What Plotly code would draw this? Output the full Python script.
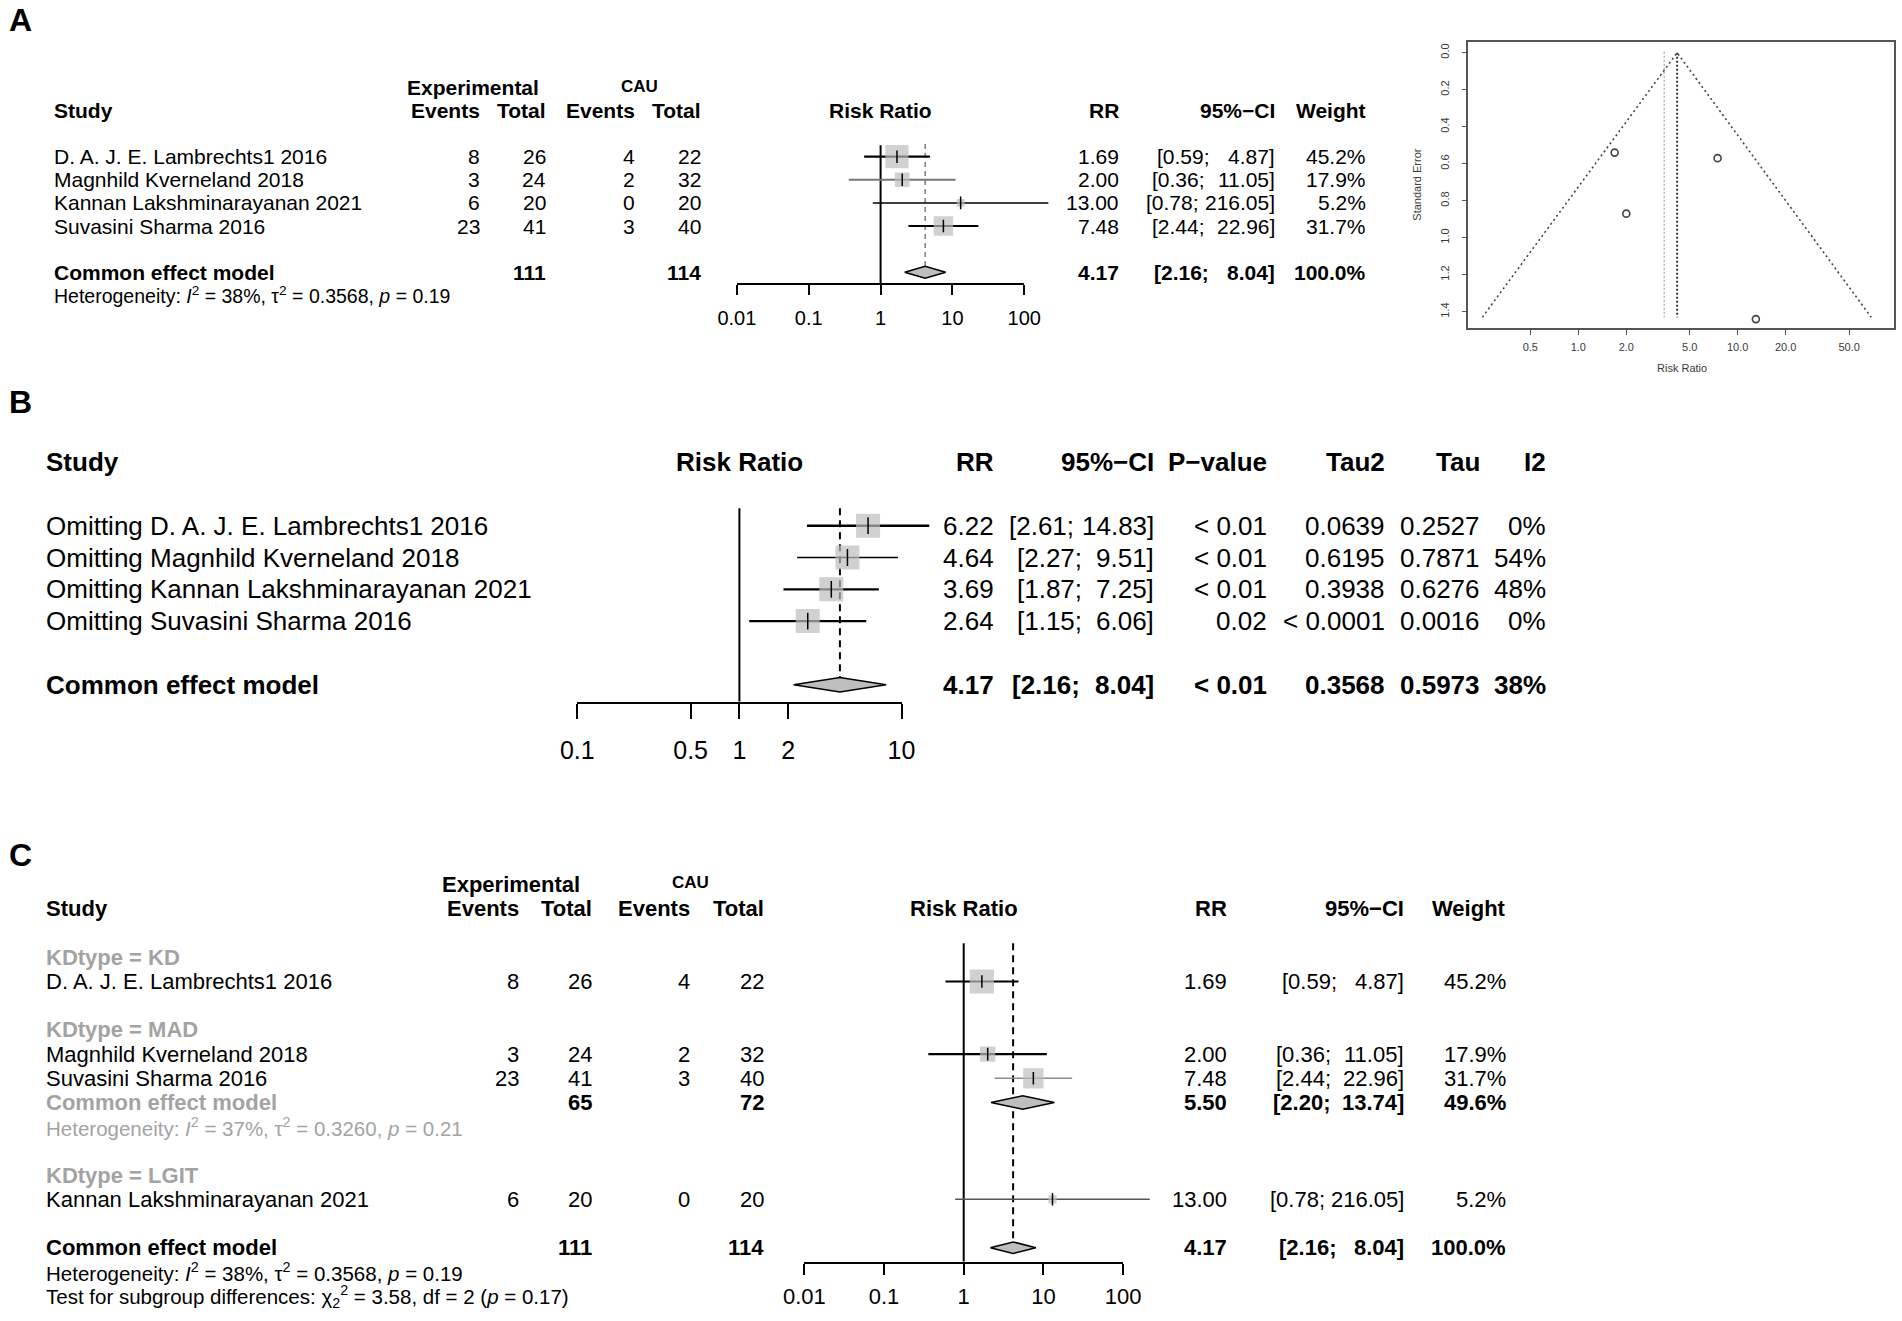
import numpy as np
import plotly.graph_objects as go

W, H = 1902, 1321
FONT = "Liberation Sans, Arial, Helvetica, sans-serif"

# ---------------- data ----------------
studies = ["D. A. J. E. Lambrechts1 2016", "Magnhild Kverneland 2018",
           "Kannan Lakshminarayanan 2021", "Suvasini Sharma 2016"]
exp_events = [8, 3, 6, 23]
exp_total = [26, 24, 20, 41]
cau_events = [4, 2, 0, 3]
cau_total = [22, 32, 20, 40]
rr = [1.69, 2.00, 13.00, 7.48]
ci_low = [0.59, 0.36, 0.78, 2.44]
ci_high = [4.87, 11.05, 216.05, 22.96]
weight = [45.2, 17.9, 5.2, 31.7]

pooled_rr, pooled_low, pooled_high = 4.17, 2.16, 8.04
pooled_exp_total, pooled_cau_total = 111, 114
het_overall = "Heterogeneity: <i>I</i><sup>2</sup> = 38%, τ<sup>2</sup> = 0.3568, <i>p</i> = 0.19"

# funnel plot (standard error of each study)
funnel_se = [0.54, 0.87, 1.44, 0.57]
funnel_random_rr = 3.46
funnel_edge_rr = [0.25, 4.17, 68.8]
funnel_edge_se = [1.43, 0.0, 1.43]
funnel_x_ticks = [0.5, 1, 2, 5, 10, 20, 50]
funnel_x_ticktext = ["0.5", "1.0", "2.0", "5.0", "10.0", "20.0", "50.0"]
funnel_y_ticks = [0.0, 0.2, 0.4, 0.6, 0.8, 1.0, 1.2, 1.4]
funnel_y_ticktext = ["0.0", "0.2", "0.4", "0.6", "0.8", "1.0", "1.2", "1.4"]

# leave-one-out (panel B)
omit_labels = ["Omitting " + s for s in studies]
omit_rr = [6.22, 4.64, 3.69, 2.64]
omit_low = [2.61, 2.27, 1.87, 1.15]
omit_high = [14.83, 9.51, 7.25, 6.06]
omit_p = ["< 0.01", "< 0.01", "< 0.01", "0.02"]
omit_tau2 = ["0.0639", "0.6195", "0.3938", "< 0.0001"]
omit_tau = ["0.2527", "0.7871", "0.6276", "0.0016"]
omit_i2 = ["0%", "54%", "48%", "0%"]
omit_summary = ["< 0.01", "0.3568", "0.5973", "38%"]

# subgroup analysis (panel C)
c_order = [0, 1, 3, 2]
c_groups = ["KD", "MAD", "LGIT"]
mad_rr, mad_low, mad_high, mad_weight = 5.50, 2.20, 13.74, 49.6
mad_exp_total, mad_cau_total = 65, 72
het_mad = "Heterogeneity: <i>I</i><sup>2</sup> = 37%, τ<sup>2</sup> = 0.3260, <i>p</i> = 0.21"
subgroup_test = "Test for subgroup differences: χ<sub>2</sub><sup>2</sup> = 3.58, df = 2 (<i>p</i> = 0.17)"

A_ticks = [0.01, 0.1, 1, 10, 100]
A_ticktext = ["0.01", "0.1", "1", "10", "100"]
B_ticks = [0.1, 0.5, 1, 2, 10]
B_ticktext = ["0.1", "0.5", "1", "2", "10"]
C_ticks = [0.01, 0.1, 1, 10, 100]
C_ticktext = ["0.01", "0.1", "1", "10", "100"]

# ---------------- helpers ----------------
SQ = "#BEBEBE"
GRAY_TXT = "#A3A3A3"
annotations = []


def ann(text, x, y, xanchor="left", size=21, color="black", bold=False, angle=0):
    if bold:
        text = "<b>" + text + "</b>"
    annotations.append(dict(text=text, x=x / W, y=1 - y / H, xref="paper", yref="paper",
                            xanchor=xanchor, yanchor="middle", showarrow=False,
                            textangle=angle, borderpad=0, borderwidth=0,
                            font=dict(family=FONT, size=size, color=color)))


def ci_ann(lo, hi, wh, xr, y, fs, bold=False, color="black"):
    """CI column as R prints it: '[lo; hi]' with the upper value space-padded."""
    hs = f"{hi:.2f}"
    npad = wh - len(hs)
    ann(hs + "]", xr, y, "right", fs, color, bold)
    w_upper = sum(0.556 if ch.isdigit() else 0.278 for ch in hs)
    w_br = 0.333 if bold else 0.278
    shift = (w_upper + w_br + 0.278 * (1 + npad)) * fs
    ann(f"[{lo:.2f};", xr - shift, y, "right", fs, color, bold)


def rowpx(P, r):
    return P["y0"] + r * P["sp"]


fig = go.Figure()
layout_axes = {}


def setup_forest(P, xd, xa, ya, ticks, ticktext, tickfs, ticklen, standoff):
    c, d = P["c"], P["d"]
    r_bot = (P["axis"] - P["y0"]) / P["sp"]
    r_top = (P["top"] - P["y0"]) / P["sp"]
    P["r_axis"] = r_bot
    yname = "yaxis" + ya[1:]
    layout_axes[yname] = dict(domain=[1 - P["axis"] / H, 1 - P["top"] / H],
                              range=[r_bot, r_top], visible=False, anchor=xd,
                              showgrid=False, zeroline=False)
    layout_axes["xaxis" + xd[1:]] = dict(type="log", domain=[0, 1],
                                         range=[(0 - c) / d, (W - c) / d],
                                         visible=False, anchor=ya,
                                         showgrid=False, zeroline=False)
    lo, hi = np.log10(ticks[0]), np.log10(ticks[-1])
    layout_axes["xaxis" + xa[1:]] = dict(
        type="log", domain=[(c + lo * d) / W, (c + hi * d) / W], range=[lo, hi],
        anchor=ya, showline=True, linewidth=2, linecolor="black", ticks="outside",
        ticklen=ticklen, tickwidth=2, tickcolor="black", tickmode="array",
        tickvals=ticks, ticktext=ticktext, showgrid=False, zeroline=False,
        ticklabelstandoff=standoff, tickfont=dict(family=FONT, size=tickfs, color="black"))
    fig.add_trace(go.Scatter(x=[], y=[], xaxis=xa, yaxis=ya, showlegend=False, hoverinfo="skip"))


def line(x, y, xa, ya, color="black", width=2, dash="solid"):
    fig.add_trace(go.Scatter(x=x, y=y, mode="lines", xaxis=xa, yaxis=ya,
                             line=dict(color=color, width=width, dash=dash),
                             showlegend=False, hoverinfo="skip"))


def diamond(est, lo, hi, r, h, xa, ya):
    fig.add_trace(go.Scatter(x=[lo, est, hi, est, lo], y=[r, r - h, r, r + h, r],
                             mode="lines", fill="toself", fillcolor=SQ,
                             line=dict(color="black", width=1.5), xaxis=xa, yaxis=ya,
                             showlegend=False, hoverinfo="skip"))


def squares(x, y, sizes, xa, ya, ticksize):
    fig.add_trace(go.Scatter(x=x, y=y, mode="markers", xaxis=xa, yaxis=ya,
                             marker=dict(symbol="square", size=sizes, color=SQ, line=dict(width=0)),
                             showlegend=False, hoverinfo="skip"))
    fig.add_trace(go.Scatter(x=x, y=y, mode="markers", xaxis=xa, yaxis=ya,
                             marker=dict(symbol="line-ns", size=ticksize, color="black",
                                         line=dict(width=1.5, color="black")),
                             showlegend=False, hoverinfo="skip"))


# ================= PANEL A =================
PA = dict(y0=156.7, sp=23.1, axis=283.3, top=128.0, c=880.6, d=71.85)
setup_forest(PA, "x", "x2", "y", A_ticks, A_ticktext, 20, 10, 6)
AFS = 21
ann("A", 20, 20, "center", 32, bold=True)
ann("Experimental", 472.7, 87.3, "center", AFS, bold=True)
ann("CAU", 639, 86.5, "center", 17, bold=True)
ann("Study", 53.7, rowpx(PA, -2), "left", AFS, bold=True)
for t, xr in zip(["Events", "Total", "Events", "Total"], [479.8, 546.4, 635, 701]):
    ann(t, xr, rowpx(PA, -2), "right", AFS, bold=True)
ann("Risk Ratio", PA["c"], rowpx(PA, -2), "center", AFS, bold=True)
ann("RR", 1118.5, rowpx(PA, -2), "right", AFS, bold=True)
ann("95%−CI", 1274.6, rowpx(PA, -2), "right", AFS, bold=True)
ann("Weight", 1366.4, rowpx(PA, -2), "right", AFS, bold=True)
for i in range(4):
    y = rowpx(PA, i)
    ann(studies[i], 53.7, y, "left", AFS)
    ann(str(exp_events[i]), 479.8, y, "right", AFS)
    ann(str(exp_total[i]), 546.4, y, "right", AFS)
    ann(str(cau_events[i]), 635, y, "right", AFS)
    ann(str(cau_total[i]), 701, y, "right", AFS)
    ann(f"{rr[i]:.2f}", 1118.5, y, "right", AFS)
    ci_ann(ci_low[i], ci_high[i], 6, 1274.6, y, AFS)
    ann(f"{weight[i]:.1f}%", 1366.4, y, "right", AFS)
y = rowpx(PA, 5)
ann("Common effect model", 53.7, y, "left", AFS, bold=True)
ann(str(pooled_exp_total), 546.4, y, "right", AFS, bold=True)
ann(str(pooled_cau_total), 701, y, "right", AFS, bold=True)
ann(f"{pooled_rr:.2f}", 1118.5, y, "right", AFS, bold=True)
ci_ann(pooled_low, pooled_high, 6, 1274.6, y, AFS, bold=True)
ann("100.0%", 1366.4, y, "right", AFS, bold=True)
ann(het_overall, 53.7, rowpx(PA, 6), "left", 19.5)

hA = 6.0 / PA["sp"]
line([1, 1], [-0.5, PA["r_axis"]], "x", "y", "black", 2)
line([pooled_rr, pooled_rr], [-0.55, 5 - hA], "x", "y", "#6a6a6a", 1.3, "5px,4px")
A_line_col = ["black", "#777777", "black", "black"]
A_line_w = [2.2, 2.0, 1.5, 2.2]
for i in range(4):
    line([ci_low[i], ci_high[i]], [i, i], "x", "y", A_line_col[i], A_line_w[i])
squares(rr, list(range(4)), [3.45 * np.sqrt(w) for w in weight], "x", "y", 9)
diamond(pooled_rr, pooled_low, pooled_high, 5, hA, "x", "y")

# ================= FUNNEL =================
fx0, fx1, fy0, fy1 = 1468.3, 1894.3, 41.7, 328.3
f_c, f_d = 1578.3, 159.4
s0, s_px = 52.7, 185.0
layout_axes["xaxis3"] = dict(
    type="log", domain=[fx0 / W, fx1 / W], range=[(fx0 - f_c) / f_d, (fx1 - f_c) / f_d],
    anchor="y2", showline=True, mirror=True, linecolor="#555555", linewidth=1.5,
    ticks="outside", ticklen=5, tickwidth=1.2, tickcolor="#555555", tickmode="array",
    tickvals=funnel_x_ticks, ticktext=funnel_x_ticktext, showgrid=False, zeroline=False,
    ticklabelstandoff=3, tickfont=dict(family=FONT, size=11, color="#3a3a3a"))
layout_axes["yaxis2"] = dict(
    domain=[1 - fy1 / H, 1 - fy0 / H], range=[(fy1 - s0) / s_px, (fy0 - s0) / s_px],
    anchor="x3", showline=True, mirror=True, linecolor="#555555", linewidth=1.5,
    ticks="outside", ticklen=5, tickwidth=1.2, tickcolor="#555555", tickmode="array",
    tickvals=funnel_y_ticks, ticktext=funnel_y_ticktext, tickangle=-90, showgrid=False,
    zeroline=False, ticklabelstandoff=8, tickfont=dict(family=FONT, size=11, color="#3a3a3a"))
line([funnel_random_rr, funnel_random_rr], [-0.005, 1.43], "x3", "y2", "#b4b4b4", 1.5, "2px,2px")
line([pooled_rr, pooled_rr], [0, 1.43], "x3", "y2", "#333333", 2.0, "2px,2px")
line(funnel_edge_rr, funnel_edge_se, "x3", "y2", "#444444", 1.6, "2px,3px")
fig.add_trace(go.Scatter(x=rr, y=funnel_se, mode="markers", xaxis="x3", yaxis="y2",
                         marker=dict(symbol="circle-open", size=7, color="#444444",
                                     line=dict(width=1.6, color="#444444")),
                         showlegend=False, hoverinfo="skip"))
ann("Standard Error", 1416.7, 185, "center", 11, "#3a3a3a", angle=-90)
ann("Risk Ratio", 1681.7, 368.3, "center", 11, "#3a3a3a")

# ================= PANEL B =================
PB = dict(y0=525.7, sp=31.8, axis=701.7, top=480.0, c=739.4, d=162.1)
setup_forest(PB, "x4", "x5", "y3", B_ticks, B_ticktext, 25, 15, 10)
BFS = 26
ann("B", 20, 402, "center", 32, bold=True)
yh = rowpx(PB, -2)
ann("Study", 45.5, yh, "left", BFS, bold=True)
ann("Risk Ratio", PB["c"], yh, "center", BFS, bold=True)
B_cols = [993.5, 1154.0, 1267.0, 1385.0, 1480.4, 1546.0]
for t, xr in zip(["RR", "95%−CI", "P−value", "Tau2", "Tau", "I2"], B_cols):
    ann(t, xr, yh, "right", BFS, bold=True)
for i in range(4):
    y = rowpx(PB, i)
    ann(omit_labels[i], 45.5, y, "left", BFS)
    ann(f"{omit_rr[i]:.2f}", B_cols[0], y, "right", BFS)
    ci_ann(omit_low[i], omit_high[i], 5, B_cols[1], y, BFS)
    ann(omit_p[i], B_cols[2], y, "right", BFS)
    ann(omit_tau2[i], B_cols[3], y, "right", BFS)
    ann(omit_tau[i], B_cols[4], y, "right", BFS)
    ann(omit_i2[i], B_cols[5], y, "right", BFS)
y = rowpx(PB, 5)
ann("Common effect model", 45.5, y, "left", BFS, bold=True)
ann(f"{pooled_rr:.2f}", B_cols[0], y, "right", BFS, bold=True)
ci_ann(pooled_low, pooled_high, 5, B_cols[1], y, BFS, bold=True)
for k in range(4):
    ann(omit_summary[k], B_cols[2 + k], y, "right", BFS, bold=True)

hB = 7.3 / PB["sp"]
line([1, 1], [-0.55, PB["r_axis"]], "x4", "y3", "black", 2)
line([pooled_rr, pooled_rr], [-0.55, 5 - hB], "x4", "y3", "black", 2, "7px,5px")
B_line_w = [2.6, 1.6, 2.3, 2.3]
for i in range(4):
    line([omit_low[i], omit_high[i]], [i, i], "x4", "y3", "black", B_line_w[i])
squares(omit_rr, list(range(4)), [24] * 4, "x4", "y3", 12)
diamond(pooled_rr, pooled_low, pooled_high, 5, hB, "x4", "y3")

# ================= PANEL C =================
PC = dict(y0=957.3, sp=24.2, axis=1261.7, top=920.0, c=963.7, d=79.7)
setup_forest(PC, "x6", "x7", "y4", C_ticks, C_ticktext, 22, 11.6, 2)
CFS = 22
ann("C", 20, 855, "center", 32, bold=True)
ann("Experimental", 511, rowpx(PC, -3), "center", CFS, bold=True)
ann("CAU", 690.5, 882, "center", 17, bold=True)
yh = rowpx(PC, -2)
ann("Study", 45.9, yh, "left", CFS, bold=True)
C_num = [519.4, 591.8, 690.3, 763.8]
for t, xr in zip(["Events", "Total", "Events", "Total"], C_num):
    ann(t, xr, yh, "right", CFS, bold=True)
ann("Risk Ratio", PC["c"], yh, "center", CFS, bold=True)
C_cols = [1227.4, 1404.4, 1505.8]
for t, xr in zip(["RR", "95%−CI", "Weight"], C_cols):
    ann(t, xr, yh, "right", CFS, bold=True)

c_header_rows = [0, 3, 9]
c_study_rows = [1, 4, 5, 10]
for g, r in zip(c_groups, c_header_rows):
    ann("KDtype = " + g, 45.9, rowpx(PC, r), "left", CFS, GRAY_TXT, bold=True)
for j, i in enumerate(c_order):
    y = rowpx(PC, c_study_rows[j])
    ann(studies[i], 45.9, y, "left", CFS)
    for v, xr in zip([exp_events[i], exp_total[i], cau_events[i], cau_total[i]], C_num):
        ann(str(v), xr, y, "right", CFS)
    ann(f"{rr[i]:.2f}", C_cols[0], y, "right", CFS)
    ci_ann(ci_low[i], ci_high[i], 6, C_cols[1], y, CFS)
    ann(f"{weight[i]:.1f}%", C_cols[2], y, "right", CFS)
y = rowpx(PC, 6)
ann("Common effect model", 45.9, y, "left", CFS, GRAY_TXT, bold=True)
ann(str(mad_exp_total), C_num[1], y, "right", CFS, bold=True)
ann(str(mad_cau_total), C_num[3], y, "right", CFS, bold=True)
ann(f"{mad_rr:.2f}", C_cols[0], y, "right", CFS, bold=True)
ci_ann(mad_low, mad_high, 6, C_cols[1], y, CFS, bold=True)
ann(f"{mad_weight:.1f}%", C_cols[2], y, "right", CFS, bold=True)
ann(het_mad, 45.9, rowpx(PC, 7), "left", 20.5, GRAY_TXT)
y = rowpx(PC, 12)
ann("Common effect model", 45.9, y, "left", CFS, bold=True)
ann(str(pooled_exp_total), C_num[1], y, "right", CFS, bold=True)
ann(str(pooled_cau_total), C_num[3], y, "right", CFS, bold=True)
ann(f"{pooled_rr:.2f}", C_cols[0], y, "right", CFS, bold=True)
ci_ann(pooled_low, pooled_high, 6, C_cols[1], y, CFS, bold=True)
ann("100.0%", C_cols[2], y, "right", CFS, bold=True)
ann(het_overall, 45.9, rowpx(PC, 13), "left", 20.5)
ann(subgroup_test, 45.9, rowpx(PC, 14), "left", 20.5)

hC = 5.8 / PC["sp"]
hCm = 6.7 / PC["sp"]
line([1, 1], [-0.58, PC["r_axis"]], "x6", "y4", "black", 2)
line([pooled_rr, pooled_rr], [-0.58, 12 - hC], "x6", "y4", "black", 2, "7px,5px")
C_line_col = ["black", "black", "#8c8c8c", "#555555"]
C_line_w = [2.2, 2.2, 1.5, 1.4]
c_rr = [rr[i] for i in c_order]
for j, i in enumerate(c_order):
    line([ci_low[i], ci_high[i]], [c_study_rows[j]] * 2, "x6", "y4", C_line_col[j], C_line_w[j])
squares(c_rr, c_study_rows, [3.6 * np.sqrt(weight[i]) for i in c_order], "x6", "y4", 9)
diamond(mad_rr, mad_low, mad_high, 6, hCm, "x6", "y4")
diamond(pooled_rr, pooled_low, pooled_high, 12, hC, "x6", "y4")

fig.update_layout(
    width=W, height=H, margin=dict(l=0, r=0, t=0, b=0), autosize=False,
    template="none", paper_bgcolor="white", plot_bgcolor="rgba(0,0,0,0)",
    showlegend=False, hovermode=False, annotations=annotations,
    font=dict(family=FONT, color="black"), **layout_axes)

fig.write_html("out.html", config={"displayModeBar": False},
               post_script="document.body.style.margin='0';")
